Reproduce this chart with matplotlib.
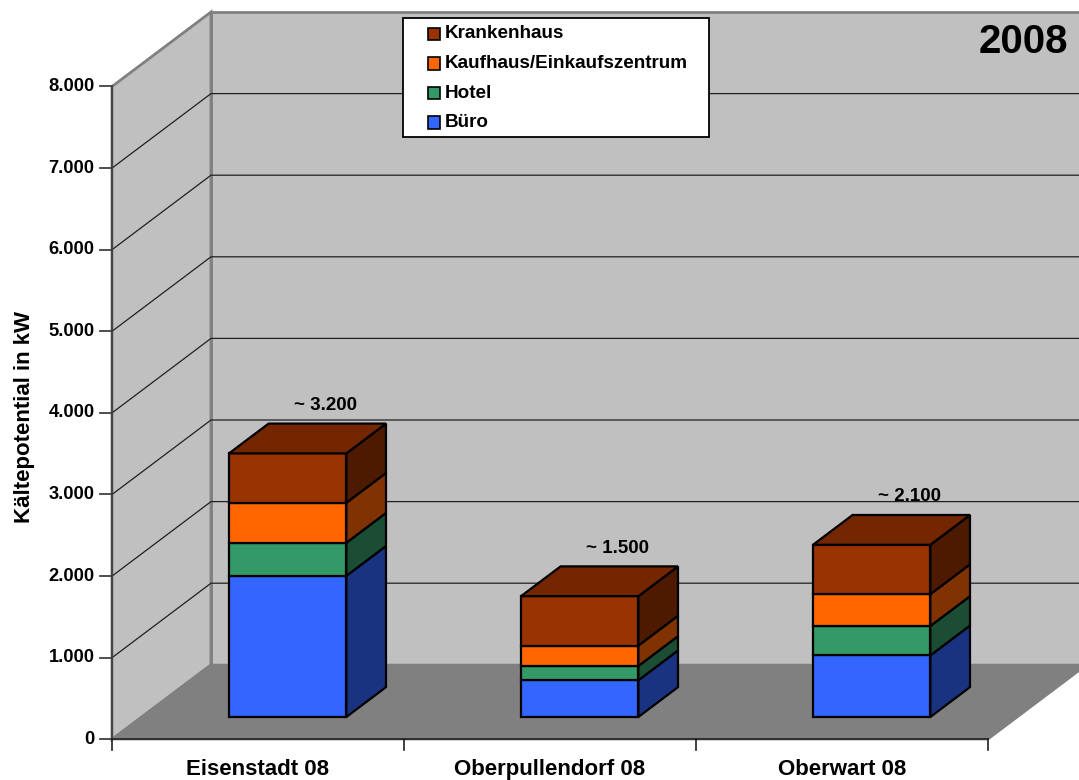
import matplotlib
matplotlib.use('Agg')
import matplotlib.pyplot as plt
from matplotlib.patches import Polygon, Rectangle

# Kältepotential je Gebäudetyp (kW), gestapelt von unten nach oben
regions = ['Eisenstadt 08', 'Oberpullendorf 08', 'Oberwart 08']
buero = [1730, 450, 755]
hotel = [405, 175, 360]
kaufhaus = [490, 250, 390]
krankenhaus = [605, 605, 605]
total_labels = ['~ 3.200', '~ 1.500', '~ 2.100']
series_names = ['Büro', 'Hotel', 'Kaufhaus/Einkaufszentrum', 'Krankenhaus']
y_ticks = [0, 1000, 2000, 3000, 4000, 5000, 6000, 7000, 8000]

# front, side, top shades per series
front_cols = ['#3366FF', '#339966', '#FF6600', '#993300']
side_cols = ['#1A3380', '#1A4D33', '#803300', '#4D1A00']
top_cols = ['#264DBF', '#26734D', '#BF4D00', '#732600']

W, H = 1079, 780
PX_CAT = 292.0      # pixels per category
PX_KW = 0.0816      # pixels per kW
X0, Y0 = 112.0, 739.3
DX = 99.0 / PX_CAT  # full depth shift, category units
DY = 74.5 / PX_KW   # full depth shift, kW units
YMAX = 8000

plt.rcParams['font.family'] = ['Liberation Sans', 'DejaVu Sans']
plt.rcParams['font.weight'] = 'bold'

fig = plt.figure(figsize=(W / 100, H / 100), dpi=100)
ax = fig.add_axes([0, 0, 1, 1])
ax.set_xlim(-X0 / PX_CAT, (W - X0) / PX_CAT)
ax.set_ylim(-(H - Y0) / PX_KW, Y0 / PX_KW)
ax.axis('off')


def proj(x, v, d):
    return (x + d * DX, v + d * DY)


ncat = len(regions)

# walls and floor
back = [proj(0, 0, 1), proj(ncat, 0, 1), proj(ncat, YMAX, 1), proj(0, YMAX, 1)]
left = [proj(0, 0, 0), proj(0, 0, 1), proj(0, YMAX, 1), proj(0, YMAX, 0)]
floor = [proj(0, 0, 0), proj(ncat, 0, 0), proj(ncat, 0, 1), proj(0, 0, 1)]
ax.add_patch(Polygon(back, closed=True, facecolor='#C0C0C0', edgecolor='#808080', lw=2, zorder=1))
ax.add_patch(Polygon(left, closed=True, facecolor='#C0C0C0', edgecolor='#808080', lw=2, zorder=1))
ax.add_patch(Polygon(floor, closed=True, facecolor='#808080', edgecolor='#808080', lw=1.5, zorder=1.5))

# gridlines on left and back wall
for v in y_ticks[1:-1]:
    pts = [proj(0, v, 0), proj(0, v, 1), proj(ncat, v, 1)]
    ax.plot([p[0] for p in pts], [p[1] for p in pts], color='#202020', lw=0.9, zorder=2)

# value axis with ticks
ax.plot([0, 0], [0, YMAX], color='#404040', lw=1.3, zorder=2.5)
tick_len = 12 / PX_CAT
for v in y_ticks:
    ax.plot([-tick_len, 0], [v, v], color='#404040', lw=1.3, zorder=2.5)
    lab = f'{v:,}'.replace(',', '.')
    ax.annotate(lab, (0, v), xytext=(-12.5, 0), textcoords='offset points',
                ha='right', va='center', fontsize=13.2, fontweight='bold')

# category axis with ticks
ax.plot([0, ncat], [0, 0], color='#202020', lw=1.2, zorder=2.5)
for i in range(ncat + 1):
    ax.plot([i, i], [0, -11 / PX_KW], color='#202020', lw=1.2, zorder=2.5)
for i, name in enumerate(regions):
    ax.annotate(name, (i + 0.5, 0), xytext=(0, -22), textcoords='offset points',
                ha='center', va='center', fontsize=16, fontweight='bold')

# stacked 3D bars
bar_w = 0.402
d0, d1 = 0.3, 0.7
stack = [buero, hotel, kaufhaus, krankenhaus]
for i in range(ncat):
    xl = i + 0.5 - bar_w / 2
    xr = i + 0.5 + bar_w / 2
    base = 0
    for k, vals in enumerate(stack):
        top = base + vals[i]
        fr = [proj(xl, base, d0), proj(xr, base, d0), proj(xr, top, d0), proj(xl, top, d0)]
        sd = [proj(xr, base, d0), proj(xr, base, d1), proj(xr, top, d1), proj(xr, top, d0)]
        ax.add_patch(Polygon(fr, closed=True, facecolor=front_cols[k], edgecolor='black', lw=1.6, zorder=4))
        ax.add_patch(Polygon(sd, closed=True, facecolor=side_cols[k], edgecolor='black', lw=1.6, zorder=4))
        if k == len(stack) - 1:
            tp = [proj(xl, top, d0), proj(xr, top, d0), proj(xr, top, d1), proj(xl, top, d1)]
            ax.add_patch(Polygon(tp, closed=True, facecolor=top_cols[k], edgecolor='black', lw=1.6, zorder=4))
        base = top
    lx, ly = proj(i + 0.5, base, d1)
    ax.annotate(total_labels[i], (lx, ly), xytext=(-1, 13), textcoords='offset points',
                ha='center', va='center', fontsize=13.5, fontweight='bold', zorder=5)

# axis title and year
fig.text(25 / W, 1 - 417 / H, 'Kältepotential in kW', rotation=90, ha='center', va='center',
         fontsize=16, fontweight='bold')
fig.text(1068 / W, 1 - 42 / H, '2008', ha='right', va='center', fontsize=29, fontweight='bold')

# legend box
lx0, ly0, lx1, ly1 = 403, 18, 709, 137
fig.add_artist(Rectangle((lx0 / W, 1 - ly1 / H), (lx1 - lx0) / W, (ly1 - ly0) / H,
                         transform=fig.transFigure, facecolor='white', edgecolor='black', lw=1.3))
for j, k in enumerate(reversed(range(len(series_names)))):
    yc = 34 + j * 29.5
    fig.add_artist(Rectangle((428 / W, 1 - (yc + 6) / H), 12 / W, 12 / H, transform=fig.transFigure,
                             facecolor=front_cols[k], edgecolor='black', lw=1.2))
    fig.text(445 / W, 1 - yc / H, series_names[k], ha='left', va='center', fontsize=13.6, fontweight='bold')

fig.savefig('out.png', dpi=100)
